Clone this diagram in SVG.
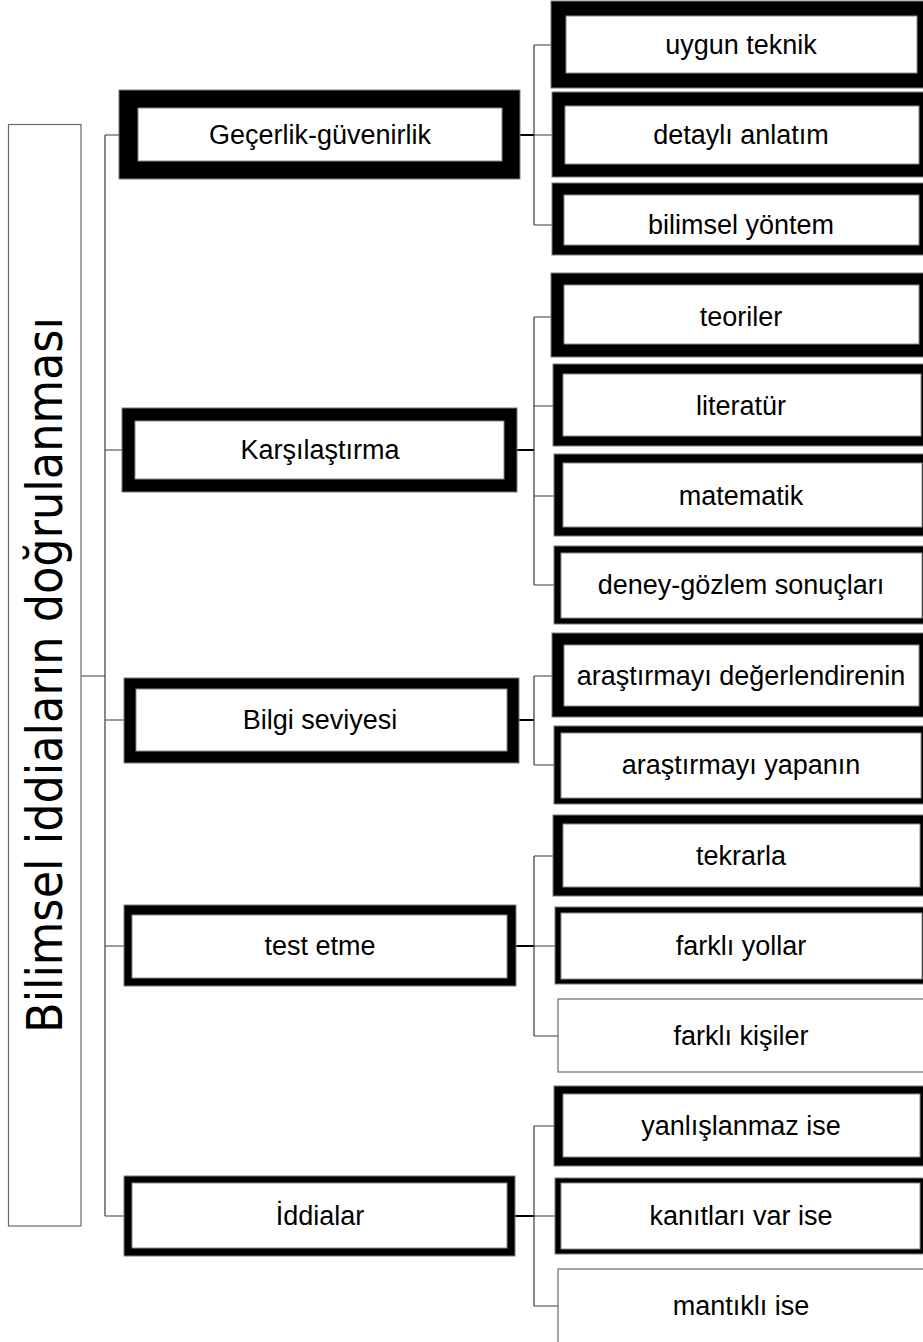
<svg xmlns="http://www.w3.org/2000/svg" width="923" height="1342" viewBox="0 0 923 1342">
<style>
.o{fill:#000;stroke:#7a7a7a;stroke-width:1}
.i{fill:#fff;stroke:#8a8a8a;stroke-width:1}
.t{fill:#fff;stroke:#6a6a6a;stroke-width:1.2}
.l{font-family:"Liberation Sans",Arial,sans-serif;font-size:27px;fill:#000;text-anchor:middle}
.c{fill:none;stroke:#3a3a3a;stroke-width:1.2}
.c2{fill:none;stroke:#000;stroke-width:2}
</style>
<rect width="923" height="1342" fill="#fff"/>
<g id="connectors">
<path class="c" d="M81,676H105M105,135V1216M105,135H119M105,450H122M105,720H124M105,946H124M105,1216H124"/>
<path class="c2" d="M520,135H534M517,450H534M519,720H534M516,946H534M515,1216H534"/>
<path class="c" d="M534,45V225M534,45H551M534,135H552M534,225H552"/>
<path class="c" d="M534,317V585M534,317H551M534,406H553M534,496H554M534,585H554"/>
<path class="c" d="M534,676V765M534,676H552M534,765H554"/>
<path class="c" d="M534,856V1036M534,856H553M534,946H555M534,1036H558"/>
<path class="c" d="M534,1126V1306M534,1126H554M534,1216H555M534,1306H558"/>
</g>
<g id="root">
<rect class="t" x="8.5" y="124.5" width="72.5" height="1101.5"/>
<text transform="translate(62,675) rotate(-90)" font-family="'DejaVu Sans',Verdana,sans-serif" font-size="50" text-anchor="middle" textLength="716" lengthAdjust="spacingAndGlyphs" fill="#000">Bilimsel iddiaların doğrulanması</text>
</g>
<g id="n-gecerlik">
<rect class="o" x="119" y="90" width="401" height="89"/>
<rect class="i" x="138" y="108" width="364" height="53"/>
<text class="l" x="320" y="144">Geçerlik-güvenirlik</text>
</g>
<g id="n-karsilastirma">
<rect class="o" x="122" y="408" width="395" height="84"/>
<rect class="i" x="135" y="421" width="369" height="58"/>
<text class="l" x="320" y="459">Karşılaştırma</text>
</g>
<g id="n-bilgi">
<rect class="o" x="124" y="678" width="395" height="85"/>
<rect class="i" x="136" y="689" width="371" height="62"/>
<text class="l" x="320" y="729">Bilgi seviyesi</text>
</g>
<g id="n-test">
<rect class="o" x="124" y="905" width="392" height="81"/>
<rect class="i" x="132" y="915" width="375" height="63"/>
<text class="l" x="320" y="955">test etme</text>
</g>
<g id="n-iddialar">
<rect class="o" x="124" y="1176" width="391" height="80"/>
<rect class="i" x="132" y="1183" width="375" height="65"/>
<text class="l" x="320" y="1225">İddialar</text>
</g>
<g id="n-uygun">
<rect class="o" x="551" y="1" width="373" height="87"/>
<rect class="i" x="566" y="16" width="351" height="57"/>
<text class="l" x="741" y="54">uygun teknik</text>
</g>
<g id="n-detayli">
<rect class="o" x="552" y="92" width="372" height="85"/>
<rect class="i" x="565" y="106" width="354" height="58"/>
<text class="l" x="741" y="144">detaylı anlatım</text>
</g>
<g id="n-bilimsel">
<rect class="o" x="552" y="183" width="372" height="72"/>
<rect class="i" x="564" y="195" width="355" height="50"/>
<text class="l" x="741" y="234">bilimsel yöntem</text>
</g>
<g id="n-teoriler">
<rect class="o" x="551" y="273" width="373" height="84"/>
<rect class="i" x="564" y="285" width="355" height="59"/>
<text class="l" x="741" y="326">teoriler</text>
</g>
<g id="n-literatur">
<rect class="o" x="553" y="364" width="371" height="82"/>
<rect class="i" x="563" y="374" width="358" height="62"/>
<text class="l" x="741" y="415">literatür</text>
</g>
<g id="n-matematik">
<rect class="o" x="554" y="454" width="370" height="82"/>
<rect class="i" x="563" y="463" width="359" height="64"/>
<text class="l" x="741" y="505">matematik</text>
</g>
<g id="n-deney">
<rect class="o" x="554" y="546" width="370" height="78"/>
<rect class="i" x="561" y="553" width="361" height="65"/>
<text class="l" x="741" y="594">deney-gözlem sonuçları</text>
</g>
<g id="n-degerlendiren">
<rect class="o" x="552" y="633" width="372" height="84"/>
<rect class="i" x="564" y="645" width="355" height="61"/>
<text class="l" x="741" y="685">araştırmayı değerlendirenin</text>
</g>
<g id="n-yapan">
<rect class="o" x="554" y="726" width="370" height="78"/>
<rect class="i" x="561" y="733" width="360" height="65"/>
<text class="l" x="741" y="774">araştırmayı yapanın</text>
</g>
<g id="n-tekrarla">
<rect class="o" x="553" y="815" width="371" height="81"/>
<rect class="i" x="563" y="824" width="357" height="63"/>
<text class="l" x="741" y="865">tekrarla</text>
</g>
<g id="n-yollar">
<rect class="o" x="555" y="907" width="369" height="77"/>
<rect class="i" x="561" y="913" width="361" height="66"/>
<text class="l" x="741" y="955">farklı yollar</text>
</g>
<g id="n-kisiler">
<rect class="t" x="558" y="999" width="366" height="73"/>
<text class="l" x="741" y="1045">farklı kişiler</text>
</g>
<g id="n-yanlislanmaz">
<rect class="o" x="554" y="1086" width="370" height="80"/>
<rect class="i" x="563" y="1094" width="357" height="63"/>
<text class="l" x="741" y="1135">yanlışlanmaz ise</text>
</g>
<g id="n-kanit">
<rect class="o" x="555" y="1178" width="369" height="76"/>
<rect class="i" x="561" y="1183" width="359" height="66"/>
<text class="l" x="741" y="1225">kanıtları var ise</text>
</g>
<g id="n-mantikli">
<rect class="t" x="558" y="1269" width="366" height="74"/>
<text class="l" x="741" y="1315">mantıklı ise</text>
</g>
</svg>
